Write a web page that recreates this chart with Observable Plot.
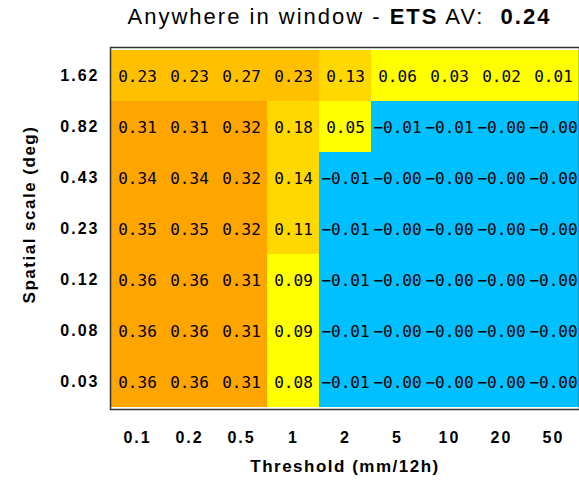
<!DOCTYPE html>
<html>
<head>
<meta charset="utf-8">
<script src="https://cdn.jsdelivr.net/npm/d3@7"></script>
<script src="https://cdn.jsdelivr.net/npm/@observablehq/plot@0.6"></script>
<style>
  html, body { margin: 0; padding: 0; background: #fff; overflow: hidden; }
  #wrap { position: relative; width: 579px; height: 482px; }
  #title { position: absolute; left: 0; top: 4px; width: 579px; text-align: center; padding-left: 100px; box-sizing: border-box;
           font-family: "Liberation Sans", Arial, sans-serif; font-size: 22px; letter-spacing: 2px; color: #000; white-space: pre; }
  #title b { font-weight: bold; }
</style>
</head>
<body>
<div id="wrap">
  <div id="title">Anywhere in window - <b>ETS</b> AV:  <b>0.24</b></div>
  <div id="chart"></div>
</div>
<script>
const thresholds = ["0.1", "0.2", "0.5", "1", "2", "5", "10", "20", "50"];
const scales = ["1.62", "0.82", "0.43", "0.23", "0.12", "0.08", "0.03"];

const row162 = [0.23, 0.23, 0.27, 0.23, 0.13, 0.06, 0.03, 0.02, 0.01];
const row082 = [0.31, 0.31, 0.32, 0.18, 0.05, -0.01, -0.01, -0.004, -0.004];
const row043 = [0.34, 0.34, 0.32, 0.14, -0.01, -0.004, -0.004, -0.004, -0.004];
const row023 = [0.35, 0.35, 0.32, 0.11, -0.01, -0.004, -0.004, -0.004, -0.004];
const row012 = [0.36, 0.36, 0.31, 0.09, -0.01, -0.004, -0.004, -0.004, -0.004];
const row008 = [0.36, 0.36, 0.31, 0.09, -0.01, -0.004, -0.004, -0.004, -0.004];
const row003 = [0.36, 0.36, 0.31, 0.08, -0.01, -0.004, -0.004, -0.004, -0.004];

const rows = [row162, row082, row043, row023, row012, row008, row003];

const colorBreaks = [0, 0.1, 0.2, 0.3];
const colorRange = ["#00C0FF", "#FFFF00", "#FFD800", "#FFC000", "#FFA500"];

const data = [];
rows.forEach((r, i) => r.forEach((v, j) => data.push({scale: scales[i], thr: thresholds[j], v})));

const fmt = v => v.toFixed(2).replace("-", "\u2212");

const chart = Plot.plot({
  width: 579,
  height: 482,
  marginLeft: 110,
  marginRight: 0,
  marginTop: 47,
  marginBottom: 73,
  style: {fontFamily: "Liberation Sans, Arial, sans-serif", background: "#fff", color: "#000"},
  x: {type: "band", domain: thresholds, padding: 0},
  y: {type: "band", domain: scales, padding: 0},
  color: {type: "threshold", domain: colorBreaks, range: colorRange},
  marks: [
    Plot.cell(data, {x: "thr", y: "scale", fill: "v", inset: 0}),
    Plot.text(data, {x: "thr", y: "scale", text: d => fmt(d.v), fill: "#000",
      fontFamily: "DejaVu Sans Mono, monospace", fontSize: 16, dy: 1,
      style: "letter-spacing:2px"}),
    Plot.frame({stroke: "#333", strokeWidth: 1.5}),
    Plot.axisX({tickSize: 0, tickPadding: 22, fontSize: 16, fontWeight: "bold",
      label: "Threshold (mm/12h)", labelAnchor: "center", labelOffset: 62}),
    Plot.axisY({tickSize: 0, tickPadding: 11, fontSize: 16, fontWeight: "bold",
      label: "Spatial scale (deg)", labelAnchor: "center", labelOffset: 88})
  ]
});
document.getElementById("chart").appendChild(chart);
chart.querySelectorAll("g[aria-label='x-axis label'] text, g[aria-label='y-axis label'] text").forEach(t => {
  t.setAttribute("font-size", "17");
  t.setAttribute("font-weight", "bold");
  t.setAttribute("style", "letter-spacing:1.5px");
});
chart.querySelectorAll("g[aria-label='y-axis label'] text").forEach(t => {
  t.setAttribute("dx", "14");
});
chart.querySelectorAll("g[aria-label='x-axis tick label'] text, g[aria-label='y-axis tick label'] text").forEach(t => {
  t.setAttribute("style", "letter-spacing:2px");
});
</script>
</body>
</html>
